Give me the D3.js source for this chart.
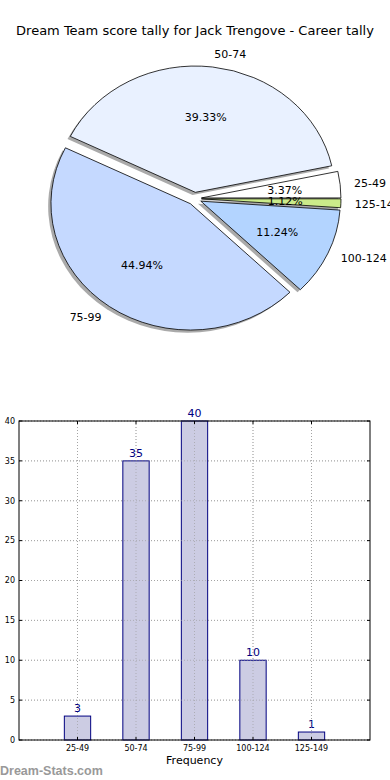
<!DOCTYPE html>
<html>
<head>
<meta charset="utf-8">
<script src="https://cdn.jsdelivr.net/npm/d3@7"></script>
<style>
  body { margin:0; background:#fff; }
  text { font-family: "DejaVu Sans", sans-serif; }
</style>
</head>
<body>
<div id="canvas"></div>
<script>
// data
var categories = ['25-49','50-74','75-99','100-124','125-149'];
var counts = [3, 35, 40, 10, 1];
var sliceColors = ['#ffffff','#e9f1ff','#c5d9ff','#b3d4ff','#cbeb8a'];
var yTicks = [0,5,10,15,20,25,30,35,40];

var W = 390, H = 780;
var svg = d3.select('#canvas').append('svg')
    .attr('width', W).attr('height', H);

svg.append('text')
    .attr('x', 195).attr('y', 35)
    .attr('text-anchor','middle')
    .style('font-size','13px')
    .text('Dream Team score tally for Jack Trengove - Career tally');

// ---- pie (matplotlib style: starts at 3 o'clock, counter-clockwise, elliptical) ----
var cx = 194.5, cy = 198.6, rx = 139.5, ry = 126.3, R = 100, explode = 0.05;
var total = d3.sum(counts);

var pie = d3.pie().sort(null).value(function(d){ return d; })
    .startAngle(Math.PI/2).endAngle(Math.PI/2 - 2*Math.PI);
var arcs = pie(counts);
var arc = d3.arc().innerRadius(0).outerRadius(R);

var pieG = svg.append('g')
    .attr('transform','translate('+cx+','+cy+')');

function mid(d){ return (d.startAngle + d.endAngle)/2; }
function off(d, k){
    var a = mid(d);
    return [Math.sin(a)*k*rx, -Math.cos(a)*k*ry];
}

// shadows first
arcs.forEach(function(d){
    var o = off(d, explode);
    pieG.append('path')
        .attr('d', arc(d))
        .attr('transform','translate('+(o[0]-2.8)+','+(o[1]+2.6)+') scale('+(rx/R)+','+(ry/R)+')')
        .style('fill','#555')
        .style('opacity',0.5);
});

arcs.forEach(function(d, i){
    var o = off(d, explode);
    pieG.append('path')
        .attr('d', arc(d))
        .attr('transform','translate('+o[0]+','+o[1]+') scale('+(rx/R)+','+(ry/R)+')')
        .attr('vector-effect','non-scaling-stroke')
        .style('fill', sliceColors[i])
        .style('stroke','#000')
        .style('stroke-width',0.8);
});

arcs.forEach(function(d, i){
    var a = mid(d);
    var lp = off(d, explode + 1.1);
    pieG.append('text')
        .attr('x', lp[0]).attr('y', lp[1])
        .attr('dy','0.35em')
        .attr('text-anchor', Math.sin(a) > 0 ? 'start' : 'end')
        .style('font-size','11px')
        .text(categories[i]);
    var pp = off(d, explode + 0.6);
    pieG.append('text')
        .attr('x', pp[0]).attr('y', pp[1])
        .attr('dy','0.35em')
        .attr('text-anchor','middle')
        .style('font-size','11px')
        .text((100*counts[i]/total).toFixed(2) + '%');
});

// ---- bar chart ----
var x = d3.scaleLinear().domain([0, 6]).range([19, 370]);
var y = d3.scaleLinear().domain([0, 40]).range([740, 421]);
var barW = 0.45;

var bar = svg.append('g');

// grid
yTicks.forEach(function(t){
    bar.append('line')
        .attr('x1', x(0)).attr('x2', x(6))
        .attr('y1', y(t)).attr('y2', y(t))
        .style('stroke','#b5b5b5').style('stroke-dasharray','1,2');
});
categories.forEach(function(c, i){
    bar.append('line')
        .attr('x1', x(i+1)).attr('x2', x(i+1))
        .attr('y1', y(0)).attr('y2', y(40))
        .style('stroke','#b5b5b5').style('stroke-dasharray','1,2');
});

counts.forEach(function(v, i){
    bar.append('rect')
        .attr('x', x(i+1-barW/2))
        .attr('y', y(v))
        .attr('width', x(barW) - x(0))
        .attr('height', y(0) - y(v))
        .style('fill','#cccce3')
        .style('stroke','#000080')
        .style('stroke-width',1);
    bar.append('text')
        .attr('x', x(i+1)).attr('y', y(v) - 4)
        .attr('text-anchor','middle')
        .style('font-size','11px')
        .style('fill','#000080')
        .text(v);
});

// grid overlaid on bars (matplotlib draws grid above)
categories.forEach(function(c, i){
    bar.append('line')
        .attr('x1', x(i+1)).attr('x2', x(i+1))
        .attr('y1', y(0)).attr('y2', y(40))
        .style('stroke','#999').style('stroke-dasharray','1,2').style('opacity',0.6);
});
yTicks.forEach(function(t){
    bar.append('line')
        .attr('x1', x(0)).attr('x2', x(6))
        .attr('y1', y(t)).attr('y2', y(t))
        .style('stroke','#999').style('stroke-dasharray','1,2').style('opacity',0.6);
});

// ticks inside, on all four sides
yTicks.forEach(function(t){
    bar.append('line').attr('x1', x(0)).attr('x2', x(0)+3).attr('y1', y(t)).attr('y2', y(t)).style('stroke','#000');
    bar.append('line').attr('x1', x(6)).attr('x2', x(6)-3).attr('y1', y(t)).attr('y2', y(t)).style('stroke','#000');
    bar.append('text')
        .attr('x', x(0) - 4).attr('y', y(t))
        .attr('dy','0.35em')
        .attr('text-anchor','end')
        .style('font-size','8px')
        .text(t);
});
categories.forEach(function(c, i){
    bar.append('line').attr('x1', x(i+1)).attr('x2', x(i+1)).attr('y1', y(0)).attr('y2', y(0)-3).style('stroke','#000');
    bar.append('line').attr('x1', x(i+1)).attr('x2', x(i+1)).attr('y1', y(40)).attr('y2', y(40)+3).style('stroke','#000');
    bar.append('text')
        .attr('x', x(i+1)).attr('y', y(0) + 11)
        .attr('text-anchor','middle')
        .style('font-size','8px')
        .text(c);
});

bar.append('rect')
    .attr('x', x(0)).attr('y', y(40))
    .attr('width', x(6) - x(0)).attr('height', y(0) - y(40))
    .style('fill','none').style('stroke','#000').style('stroke-width',1);

svg.append('text')
    .attr('x', x(3)).attr('y', 764)
    .attr('text-anchor','middle')
    .style('font-size','11px')
    .text('Frequency');

svg.append('text')
    .attr('x', 0).attr('y', 775)
    .style('font-family','"Liberation Sans", sans-serif')
    .style('font-size','12.5px')
    .style('font-weight','bold')
    .style('fill','#999')
    .text('Dream-Stats.com');
</script>
</body>
</html>
